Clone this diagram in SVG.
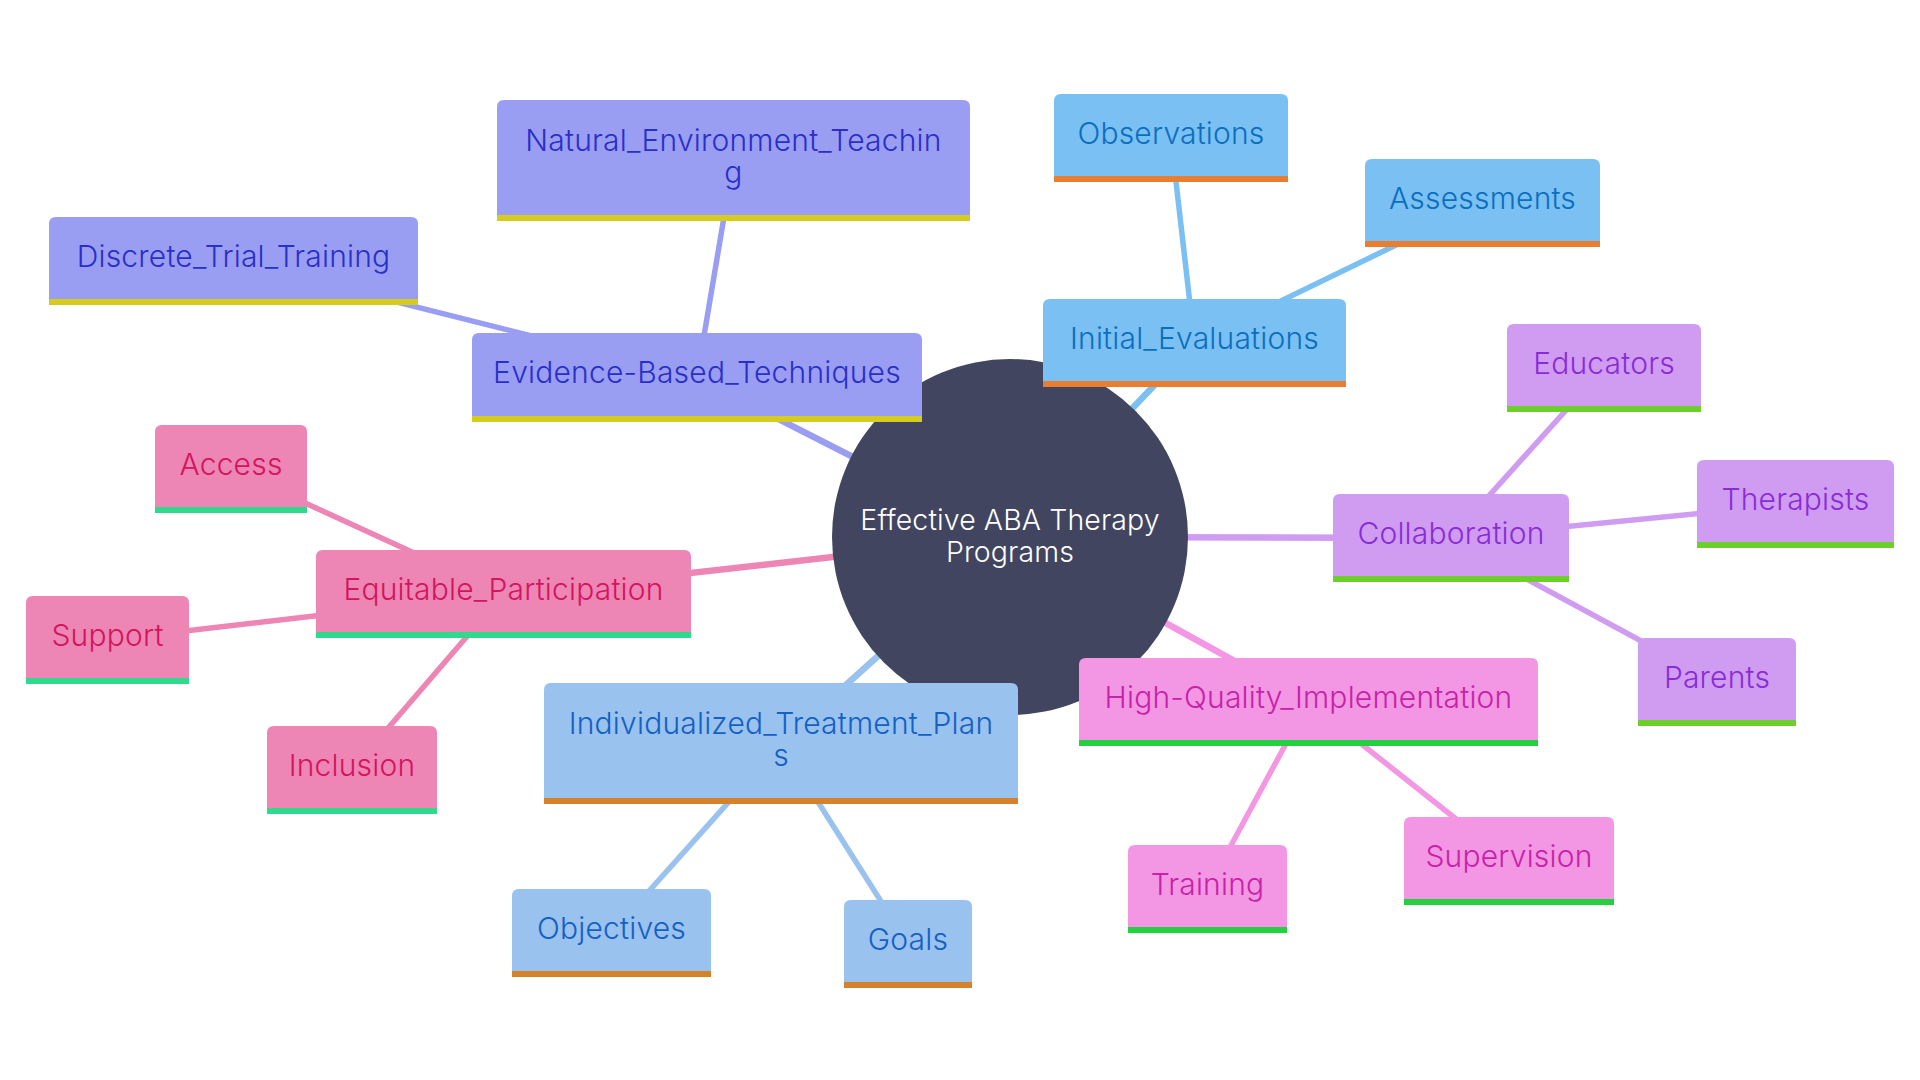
<svg xmlns="http://www.w3.org/2000/svg" width="1920" height="1080" viewBox="0 0 1920 1080">
<style>
text{font-family:Inter,"Noto Sans","Liberation Sans",sans-serif;font-size:30px;font-weight:300;letter-spacing:0.2px;text-anchor:middle}
#root text{font-size:28.5px;letter-spacing:0.1px}
.e{fill:none;stroke-linecap:round}
.e1{stroke-width:6.5}
.e2{stroke-width:5.5}
.s-ebt .b{fill:#9a9ef3}.s-ebt text{fill:#2a2fc8}.s-ebt .st{fill:#d6cc1e}
.s-ie .b{fill:#7bc0f2}.s-ie text{fill:#0a6fc0}.s-ie .st{fill:#e97e30}
.s-co .b{fill:#cf9cf2}.s-co text{fill:#8a2cd6}.s-co .st{fill:#6ccf2a}
.s-hq .b{fill:#f396e3}.s-hq text{fill:#c722a8}.s-hq .st{fill:#22d040}
.s-it .b{fill:#99c2ee}.s-it text{fill:#1560c4}.s-it .st{fill:#d5822a}
.s-ep .b{fill:#ed86b5}.s-ep text{fill:#d4145c}.s-ep .st{fill:#30da8c}
</style>
<rect width="1920" height="1080" fill="#ffffff"/>
<g id="connectors">
<g stroke="#9a9ef3" class="e">
<line class="e1" x1="1010" y1="537" x2="697" y2="377.5"/>
<line class="e2" x1="697" y1="377.5" x2="733.5" y2="160.5"/>
<line class="e2" x1="697" y1="377.5" x2="233.5" y2="261"/>
</g>
<g stroke="#7bc0f2" class="e">
<line class="e1" x1="1010" y1="537" x2="1194.5" y2="343"/>
<line class="e2" x1="1194.5" y1="343" x2="1171" y2="138"/>
<line class="e2" x1="1194.5" y1="343" x2="1482.5" y2="203"/>
</g>
<g stroke="#cf9cf2" class="e">
<line class="e1" x1="1010" y1="537" x2="1451" y2="538"/>
<line class="e2" x1="1451" y1="538" x2="1604" y2="368"/>
<line class="e2" x1="1451" y1="538" x2="1795.5" y2="504"/>
<line class="e2" x1="1451" y1="538" x2="1717" y2="682"/>
</g>
<g stroke="#f396e3" class="e">
<line class="e1" x1="1010" y1="537" x2="1308.5" y2="702"/>
<line class="e2" x1="1308.5" y1="702" x2="1207.5" y2="889"/>
<line class="e2" x1="1308.5" y1="702" x2="1509" y2="861"/>
</g>
<g stroke="#99c2ee" class="e">
<line class="e1" x1="1010" y1="537" x2="781" y2="743.5"/>
<line class="e2" x1="781" y1="743.5" x2="611.5" y2="933"/>
<line class="e2" x1="781" y1="743.5" x2="908" y2="944"/>
</g>
<g stroke="#ed86b5" class="e">
<line class="e1" x1="1010" y1="537" x2="503.5" y2="594"/>
<line class="e2" x1="503.5" y1="594" x2="231" y2="469"/>
<line class="e2" x1="503.5" y1="594" x2="107.5" y2="640"/>
<line class="e2" x1="503.5" y1="594" x2="352" y2="770"/>
</g>
</g>
<g id="root">
<circle cx="1010" cy="537" r="178" fill="#414560"/>
<text x="1010" y="530" fill="#ffffff">Effective ABA Therapy</text>
<text x="1010" y="562" fill="#ffffff">Programs</text>
</g>
<g id="n-ebt" class="s-ebt">
<path class="b" d="M472,422V340Q472,333 479,333H915Q922,333 922,340V422Z"/>
<rect class="st" x="472" y="416" width="450" height="6"/>
<text x="697" y="383">Evidence-Based_Techniques</text>
</g>
<g id="n-net" class="s-ebt">
<path class="b" d="M497,221V107Q497,100 504,100H963Q970,100 970,107V221Z"/>
<rect class="st" x="497" y="215" width="473" height="6"/>
<text x="733.5" y="151">Natural_Environment_Teachin</text>
<text x="733.5" y="183">g</text>
</g>
<g id="n-dtt" class="s-ebt">
<path class="b" d="M49,305V224Q49,217 56,217H411Q418,217 418,224V305Z"/>
<rect class="st" x="49" y="299" width="369" height="6"/>
<text x="233.5" y="267">Discrete_Trial_Training</text>
</g>
<g id="n-ie" class="s-ie">
<path class="b" d="M1043,387V306Q1043,299 1050,299H1339Q1346,299 1346,306V387Z"/>
<rect class="st" x="1043" y="381" width="303" height="6"/>
<text x="1194.5" y="349">Initial_Evaluations</text>
</g>
<g id="n-obs" class="s-ie">
<path class="b" d="M1054,182V101Q1054,94 1061,94H1281Q1288,94 1288,101V182Z"/>
<rect class="st" x="1054" y="176" width="234" height="6"/>
<text x="1171" y="144">Observations</text>
</g>
<g id="n-as" class="s-ie">
<path class="b" d="M1365,247V166Q1365,159 1372,159H1593Q1600,159 1600,166V247Z"/>
<rect class="st" x="1365" y="241" width="235" height="6"/>
<text x="1482.5" y="209">Assessments</text>
</g>
<g id="n-co" class="s-co">
<path class="b" d="M1333,582V501Q1333,494 1340,494H1562Q1569,494 1569,501V582Z"/>
<rect class="st" x="1333" y="576" width="236" height="6"/>
<text x="1451" y="544">Collaboration</text>
</g>
<g id="n-edu" class="s-co">
<path class="b" d="M1507,412V331Q1507,324 1514,324H1694Q1701,324 1701,331V412Z"/>
<rect class="st" x="1507" y="406" width="194" height="6"/>
<text x="1604" y="374">Educators</text>
</g>
<g id="n-ther" class="s-co">
<path class="b" d="M1697,548V467Q1697,460 1704,460H1887Q1894,460 1894,467V548Z"/>
<rect class="st" x="1697" y="542" width="197" height="6"/>
<text x="1795.5" y="510">Therapists</text>
</g>
<g id="n-par" class="s-co">
<path class="b" d="M1638,726V645Q1638,638 1645,638H1789Q1796,638 1796,645V726Z"/>
<rect class="st" x="1638" y="720" width="158" height="6"/>
<text x="1717" y="688">Parents</text>
</g>
<g id="n-hq" class="s-hq">
<path class="b" d="M1079,746V665Q1079,658 1086,658H1531Q1538,658 1538,665V746Z"/>
<rect class="st" x="1079" y="740" width="459" height="6"/>
<text x="1308.5" y="708">High-Quality_Implementation</text>
</g>
<g id="n-tr" class="s-hq">
<path class="b" d="M1128,933V852Q1128,845 1135,845H1280Q1287,845 1287,852V933Z"/>
<rect class="st" x="1128" y="927" width="159" height="6"/>
<text x="1207.5" y="895">Training</text>
</g>
<g id="n-sup" class="s-hq">
<path class="b" d="M1404,905V824Q1404,817 1411,817H1607Q1614,817 1614,824V905Z"/>
<rect class="st" x="1404" y="899" width="210" height="6"/>
<text x="1509" y="867">Supervision</text>
</g>
<g id="n-itp" class="s-it">
<path class="b" d="M544,804V690Q544,683 551,683H1011Q1018,683 1018,690V804Z"/>
<rect class="st" x="544" y="798" width="474" height="6"/>
<text x="781" y="734">Individualized_Treatment_Plan</text>
<text x="781" y="766">s</text>
</g>
<g id="n-obj" class="s-it">
<path class="b" d="M512,977V896Q512,889 519,889H704Q711,889 711,896V977Z"/>
<rect class="st" x="512" y="971" width="199" height="6"/>
<text x="611.5" y="939">Objectives</text>
</g>
<g id="n-goals" class="s-it">
<path class="b" d="M844,988V907Q844,900 851,900H965Q972,900 972,907V988Z"/>
<rect class="st" x="844" y="982" width="128" height="6"/>
<text x="908" y="950">Goals</text>
</g>
<g id="n-ep" class="s-ep">
<path class="b" d="M316,638V557Q316,550 323,550H684Q691,550 691,557V638Z"/>
<rect class="st" x="316" y="632" width="375" height="6"/>
<text x="503.5" y="600">Equitable_Participation</text>
</g>
<g id="n-acc" class="s-ep">
<path class="b" d="M155,513V432Q155,425 162,425H300Q307,425 307,432V513Z"/>
<rect class="st" x="155" y="507" width="152" height="6"/>
<text x="231" y="475">Access</text>
</g>
<g id="n-sup2" class="s-ep">
<path class="b" d="M26,684V603Q26,596 33,596H182Q189,596 189,603V684Z"/>
<rect class="st" x="26" y="678" width="163" height="6"/>
<text x="107.5" y="646">Support</text>
</g>
<g id="n-inc" class="s-ep">
<path class="b" d="M267,814V733Q267,726 274,726H430Q437,726 437,733V814Z"/>
<rect class="st" x="267" y="808" width="170" height="6"/>
<text x="352" y="776">Inclusion</text>
</g>
</svg>
